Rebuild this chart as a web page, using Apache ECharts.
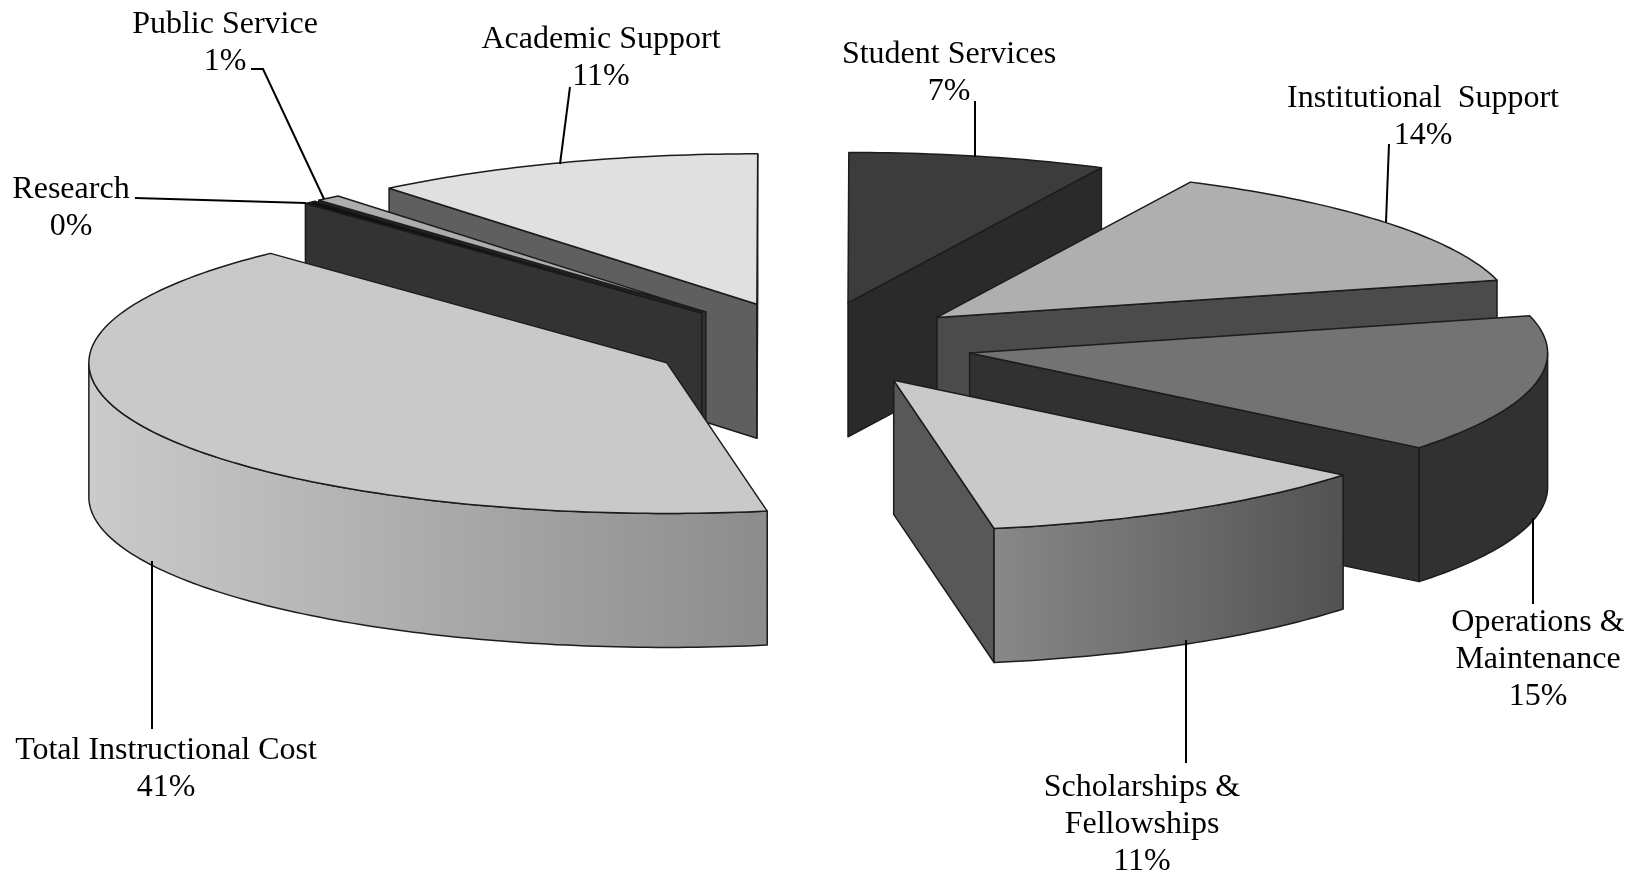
<!DOCTYPE html>
<html>
<head>
<meta charset="utf-8">
<title>Expenditures pie</title>
<style>
html, body { margin: 0; padding: 0; background: #fff; }
#main { width: 1639px; height: 875px; }
</style>
<script src="https://cdn.jsdelivr.net/npm/echarts@6/dist/echarts.min.js"></script>
</head>
<body>
<div id="main"></div>
<script>
// 数据
var names = ['Total Instructional Cost', 'Research', 'Public Service', 'Academic Support', 'Student Services', 'Institutional  Support', 'Operations & Maintenance', 'Scholarships & Fellowships'];
var values = [40.75, 0.35, 0.7, 11, 7.2, 13.8, 14.8, 11.4];

// 灰度
var topColors = ['#c9c9c9', '#111111', '#adadad', '#e0e0e0', '#3c3c3c', '#afafaf', '#737373', '#c9c9c9'];
var wallColors = ['#5a5a5a', '#333333', '#333333', '#5f5f5f', '#2a2a2a', '#4b4b4b', '#313131', '#585858'];
var rimFrom = ['#cbcbcb', '#333333', '#333333', '#5f5f5f', '#2a2a2a', '#4b4b4b', '#313131', '#888888'];
var rimTo = ['#8c8c8c', '#333333', '#333333', '#5f5f5f', '#2a2a2a', '#4b4b4b', '#313131', '#525252'];

// 饼的投影
var pie = { cx: 811.5, cy: 344, rx: 578, ry: 150.5, depth: 134, explode: 0.28, startAngle: 80 };

// 标签位置和引线
var labelLayout = [
	{ lines: ['Total Instructional Cost'], x: 166, y: 751, leader: [[152, 561], [152, 729]] },
	{ lines: ['Research'], x: 71, y: 190, leader: [[135, 198], [306, 203]] },
	{ lines: ['Public Service'], x: 225, y: 25, leader: [[251, 69], [263, 69], [324, 199]] },
	{ lines: ['Academic Support'], x: 601, y: 40, leader: [[570, 87], [560, 164]] },
	{ lines: ['Student Services'], x: 949, y: 55, leader: [[975, 101], [975, 157]] },
	{ lines: ['Institutional  Support'], x: 1423, y: 99, leader: [[1389, 144], [1386, 222]] },
	{ lines: ['Operations &', 'Maintenance'], x: 1538, y: 623, leader: [[1533, 518], [1533, 604]] },
	{ lines: ['Scholarships &', 'Fellowships'], x: 1142, y: 788, leader: [[1186, 640], [1186, 763]] }
];

var total = values.reduce(function (a, b) { return a + b; }, 0);
var slices = [];
var angle = pie.startAngle;
values.forEach(function (v, i) {
	var span = v / total * 360;
	var mid = (angle + span / 2) * Math.PI / 180;
	slices.push({
		index: i,
		t0: angle,
		t1: angle + span,
		mid: mid,
		ox: pie.cx + Math.cos(mid) * pie.explode * pie.rx,
		oy: pie.cy + Math.sin(mid) * pie.explode * pie.ry
	});
	angle += span;
});

// 从后往前画
var drawOrder = slices.slice().sort(function (a, b) { return Math.sin(a.mid) - Math.sin(b.mid); })
	.map(function (s) { return s.index; });

function rimPoint(s, t, dz) {
	var r = t * Math.PI / 180;
	return [s.ox + Math.cos(r) * pie.rx, s.oy + Math.sin(r) * pie.ry + (dz || 0)];
}

function arcPoints(s, a, b, dz) {
	var pts = [];
	var n = Math.max(2, Math.ceil(b - a));
	for (var i = 0; i <= n; i++) {
		pts.push(rimPoint(s, a + (b - a) * i / n, dz));
	}
	return pts;
}

function face(points, fill) {
	return {
		type: 'polygon',
		shape: { points: points },
		style: { fill: fill, stroke: '#1c1c1c', lineWidth: 1.5, lineJoin: 'round' },
		silent: true
	};
}

function wall(s, t, color) {
	var rim = rimPoint(s, t);
	return face([[s.ox, s.oy], rim, [rim[0], rim[1] + pie.depth], [s.ox, s.oy + pie.depth]], color);
}

function renderSlice(params, api) {
	var s = slices[api.value(0)];
	var i = s.index;
	var children = [];
	// 朝前的切面
	if (Math.sin((s.t0 - 90) * Math.PI / 180) > 0.001) { children.push(wall(s, s.t0, wallColors[i])); }
	if (Math.sin((s.t1 + 90) * Math.PI / 180) > 0.001) { children.push(wall(s, s.t1, wallColors[i])); }
	// 外圈
	[0, 360].forEach(function (k) {
		var a = Math.max(s.t0, k);
		var b = Math.min(s.t1, k + 180);
		if (b > a) {
			var fill = new echarts.graphic.LinearGradient(0, 0, 1, 0, [
				{ offset: 0, color: rimFrom[i] },
				{ offset: 1, color: rimTo[i] }
			]);
			children.push(face(arcPoints(s, a, b, 0).concat(arcPoints(s, a, b, pie.depth).reverse()), fill));
		}
	});
	// 顶面
	children.push(face([[s.ox, s.oy]].concat(arcPoints(s, s.t0, s.t1, 0)), topColors[i]));
	return { type: 'group', children: children };
}

function renderLabel(params, api) {
	var i = api.value(0);
	var item = labelLayout[i];
	var lines = item.lines.concat([Math.round(values[i] / total * 100) + '%']);
	var children = [{
		type: 'polyline',
		shape: { points: item.leader },
		style: { fill: 'none', stroke: '#000', lineWidth: 2 },
		silent: true
	}];
	lines.forEach(function (line, n) {
		children.push({
			type: 'text',
			style: {
				text: line,
				x: item.x,
				y: item.y + n * 37,
				align: 'center',
				verticalAlign: 'middle',
				fill: '#000',
				font: '32px "Liberation Serif", "Times New Roman", serif'
			},
			silent: true
		});
	});
	return { type: 'group', children: children };
}

var myChart = echarts.init(document.getElementById('main'));
var option = {
	backgroundColor: '#ffffff',
	animation: false,
	series: [
		{ type: 'custom', coordinateSystem: 'none', renderItem: renderSlice, data: drawOrder, z: 2, animation: false, encode: { value: 0 } },
		{ type: 'custom', coordinateSystem: 'none', renderItem: renderLabel, data: names.map(function (n, i) { return i; }), z: 3, animation: false, encode: { value: 0 } }
	]
};
myChart.setOption(option);
</script>
</body>
</html>
